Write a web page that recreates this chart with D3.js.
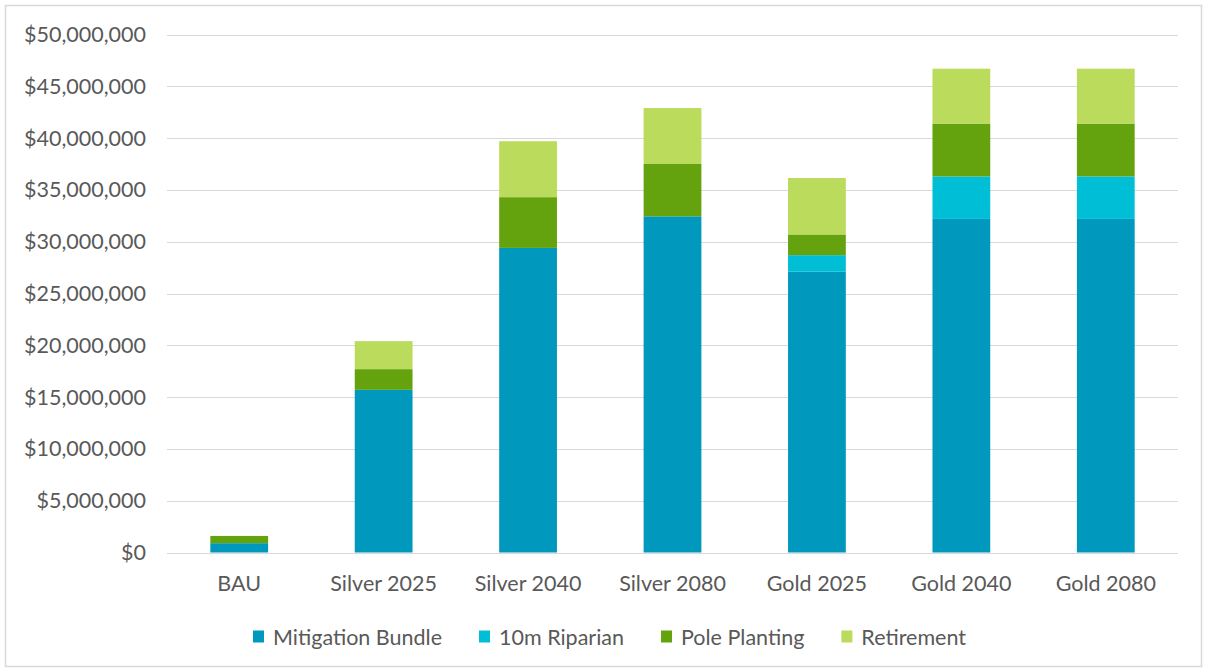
<html>
  <head>
    <style>
      body { margin: 0; background: #fff; }
      text { font-family: Lato, "Open Sans", sans-serif; fill: #595959; }
    </style>
    <script src="https://cdnjs.cloudflare.com/ajax/libs/d3/7.8.5/d3.min.js"></script>
  </head>
  <body>
    <script>
      // Data (dollars, millions).
      var categories = ["BAU", "Silver 2025", "Silver 2040", "Silver 2080", "Gold 2025", "Gold 2040", "Gold 2080"];
      var seriesNames = ["Mitigation Bundle", "10m Riparian", "Pole Planting", "Retirement"];
      var mitigation = [0.9, 15.7, 29.4, 32.45, 27.1, 32.2, 32.2];
      var riparian   = [0, 0, 0, 0, 1.6, 4.1, 4.1];
      var pole       = [0.7, 2.0, 4.9, 5.05, 2.0, 5.1, 5.1];
      var retirement = [0, 2.7, 5.4, 5.4, 5.45, 5.3, 5.3];
      var yTicks = [0, 5, 10, 15, 20, 25, 30, 35, 40, 45, 50];
      var colors = ["#0099bd", "#00bed6", "#65a30e", "#badb5b"];

      var W = 1206, H = 672;
      var svg = d3.select("body").append("svg")
        .attr("width", W)
        .attr("height", H);

      // outer chart border
      svg.append("rect")
        .attr("x", 5.5).attr("y", 5.5)
        .attr("width", 1196).attr("height", 661)
        .attr("fill", "none")
        .attr("stroke", "#d9d9d9")
        .attr("stroke-width", 1.5);

      var plotLeft = 167, plotRight = 1178, plotTop = 34.5, plotBottom = 552.5;

      var x = d3.scaleBand().domain(categories).range([plotLeft, plotRight]).paddingInner(0.6).paddingOuter(0.3);
      var y = d3.scaleLinear().domain([0, 50]).range([plotBottom, plotTop]);

      // gridlines
      svg.append("g").selectAll("line")
        .data(yTicks)
        .enter().append("line")
        .attr("x1", plotLeft).attr("x2", plotRight)
        .attr("y1", function(d) { return Math.round(y(d)) + 0.5; })
        .attr("y2", function(d) { return Math.round(y(d)) + 0.5; })
        .attr("stroke", "#d9d9d9")
        .attr("stroke-width", 1);

      // y labels
      var fmt = d3.format(",");
      svg.append("g").selectAll("text")
        .data(yTicks)
        .enter().append("text")
        .attr("x", 146)
        .attr("y", function(d) { return y(d); })
        .attr("dy", "0.35em")
        .attr("text-anchor", "end")
        .style("font-size", "21.5px")
        .text(function(d) { return "$" + fmt(d * 1000000); });

      // stacked bars
      var rows = categories.map(function(c, i) {
        return { cat: c, s0: mitigation[i], s1: riparian[i], s2: pole[i], s3: retirement[i] };
      });
      var stack = d3.stack().keys(["s0", "s1", "s2", "s3"])(rows);

      svg.append("g").selectAll("g")
        .data(stack)
        .enter().append("g")
        .attr("fill", function(d, i) { return colors[i]; })
        .selectAll("rect")
        .data(function(d) { return d; })
        .enter().append("rect")
        .attr("x", function(d) { return x(d.data.cat); })
        .attr("width", x.bandwidth())
        .attr("y", function(d) { return y(d[1]); })
        .attr("height", function(d) { return y(d[0]) - y(d[1]); });

      // x labels
      svg.append("g").selectAll("text")
        .data(categories)
        .enter().append("text")
        .attr("x", function(d) { return x(d) + x.bandwidth() / 2; })
        .attr("y", 591)
        .attr("text-anchor", "middle")
        .style("font-size", "21.5px")
        .text(function(d) { return d; });

      // legend
      var legend = svg.append("g");
      var lx = 253;
      seriesNames.forEach(function(name, i) {
        legend.append("rect")
          .attr("x", lx).attr("y", 630.5)
          .attr("width", 11).attr("height", 12)
          .attr("fill", colors[i]);
        var t = legend.append("text")
          .attr("x", lx + 20)
          .attr("y", 644.5)
          .style("font-size", "21.5px")
          .text(name);
        lx += 20 + t.node().getComputedTextLength() + 37;
      });
    </script>
  </body>
</html>
